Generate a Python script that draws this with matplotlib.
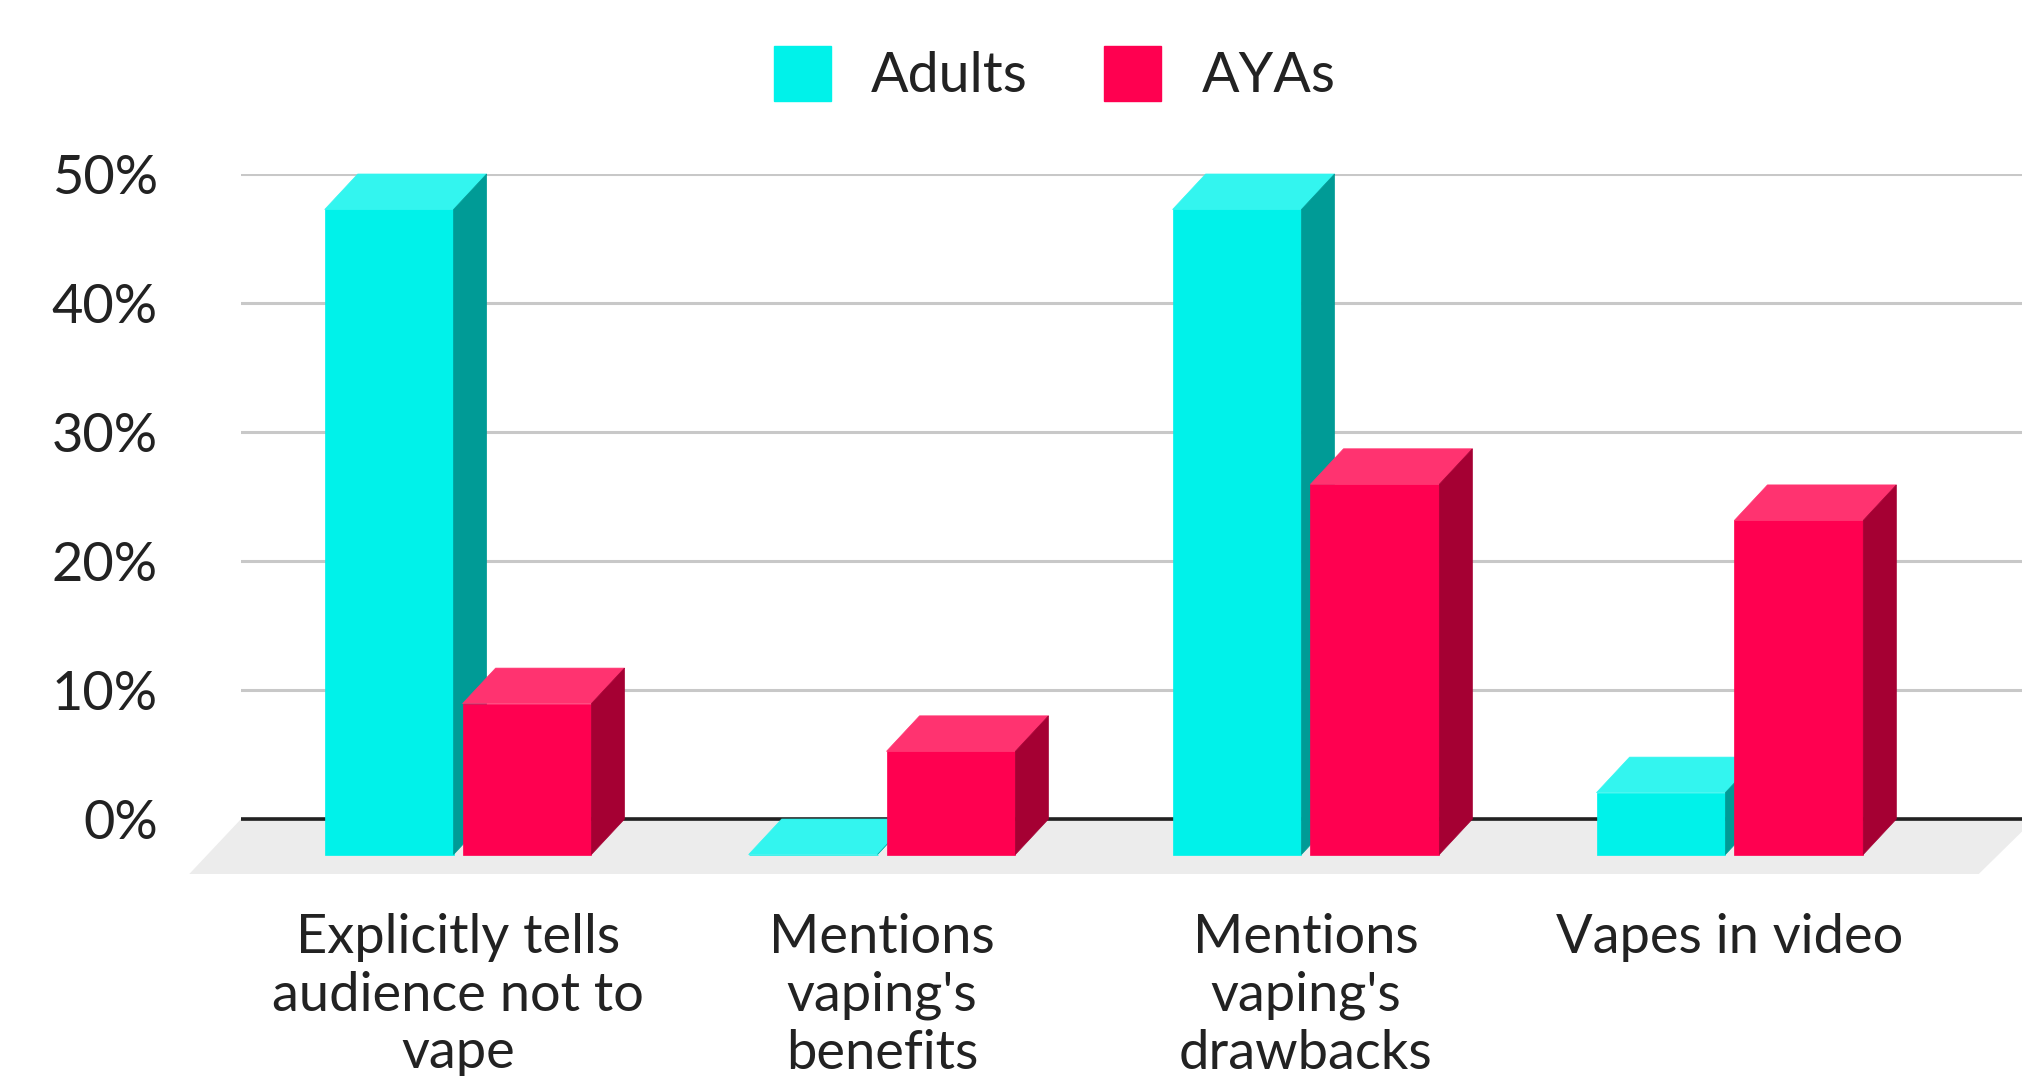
import matplotlib.pyplot as plt
from matplotlib.patches import Polygon, Patch

categories = ["Explicitly tells\naudience not to\nvape", "Mentions\nvaping's\nbenefits",
              "Mentions\nvaping's\ndrawbacks", "Vapes in video"]
adults = [50, 0, 50, 4.8]
ayas = [11.7, 8.0, 28.7, 25.9]
y_ticks = [0, 10, 20, 30, 40, 50]
y_labels = ['0%', '10%', '20%', '30%', '40%', '50%']

# front / top / side shades
cyan = ('#00f2ea', '#33f5ef', '#009b96')
red = ('#ff0050', '#ff3370', '#a50033')

plt.rcParams['font.family'] = ['Lato', 'DejaVu Sans']
text_color = '#222222'

W = 0.304      # bar width (category units)
GAP = 0.0106   # half gap between the two bars in a group
DX = 0.078     # depth offset in x
DY = 2.75      # depth offset in y (percent)

fig = plt.figure(figsize=(20.22, 10.76), dpi=100)
ax = fig.add_axes([241 / 2022, 202 / 1076, 1781 / 2022, 700 / 1076])
ax.set_xlim(-0.512, 3.689)
ax.set_ylim(-4.26, 50)

# floor
x_lo, x_hi = ax.get_xlim()
y_lo = ax.get_ylim()[0]
floor = Polygon([(x_lo, 0), (x_hi + 0.03, 0), (3.587, y_lo), (-0.634, y_lo)],
                closed=True, facecolor='#ececec', edgecolor='none', zorder=0.2, clip_on=False)
ax.add_patch(floor)

ax.set_axisbelow(True)
ax.yaxis.grid(True, color='#c8c8c8', linewidth=2.2)
ax.axhline(0, color='#222222', linewidth=2.6, zorder=1.5)


def draw_bar(x0, v, shades, z):
    front, top, side = shades
    ax.bar(x0, v, width=W, bottom=-DY, align='edge', color=front,
           edgecolor=front, linewidth=0.5, zorder=z)
    ax.add_patch(Polygon([(x0, v - DY), (x0 + W, v - DY), (x0 + W + DX, v), (x0 + DX, v)],
                         closed=True, facecolor=top, edgecolor=top, linewidth=0.5,
                         zorder=z, clip_on=False))
    ax.add_patch(Polygon([(x0 + W, -DY), (x0 + W + DX, 0), (x0 + W + DX, v), (x0 + W, v - DY)],
                         closed=True, facecolor=side, edgecolor=side, linewidth=0.5,
                         zorder=z, clip_on=False))


for i in range(len(categories)):
    draw_bar(i - GAP - W, adults[i], cyan, 3 + i * 0.2)
    draw_bar(i + GAP, ayas[i], red, 3.1 + i * 0.2)

ax.set_yticks(y_ticks)
ax.set_yticklabels(y_labels)
ax.set_xticks(range(len(categories)))
ax.set_xticklabels(categories, linespacing=1.22)
ax.tick_params(axis='y', length=0, pad=60, labelsize=39, labelcolor=text_color)
ax.tick_params(axis='x', length=0, pad=28, labelsize=39, labelcolor=text_color)
for s in ax.spines.values():
    s.set_visible(False)

handles = [Patch(facecolor=cyan[0], edgecolor=cyan[0], label='Adults'),
           Patch(facecolor=red[0], edgecolor=red[0], label='AYAs')]
leg = fig.legend(handles=handles, loc='center', bbox_to_anchor=(0.5215, 0.931), ncol=2,
                 frameon=False, fontsize=40, handlelength=1.03, handleheight=1.15,
                 handletextpad=0.72, columnspacing=1.38)
for t in leg.get_texts():
    t.set_color(text_color)

fig.savefig('out.png', dpi=100)
